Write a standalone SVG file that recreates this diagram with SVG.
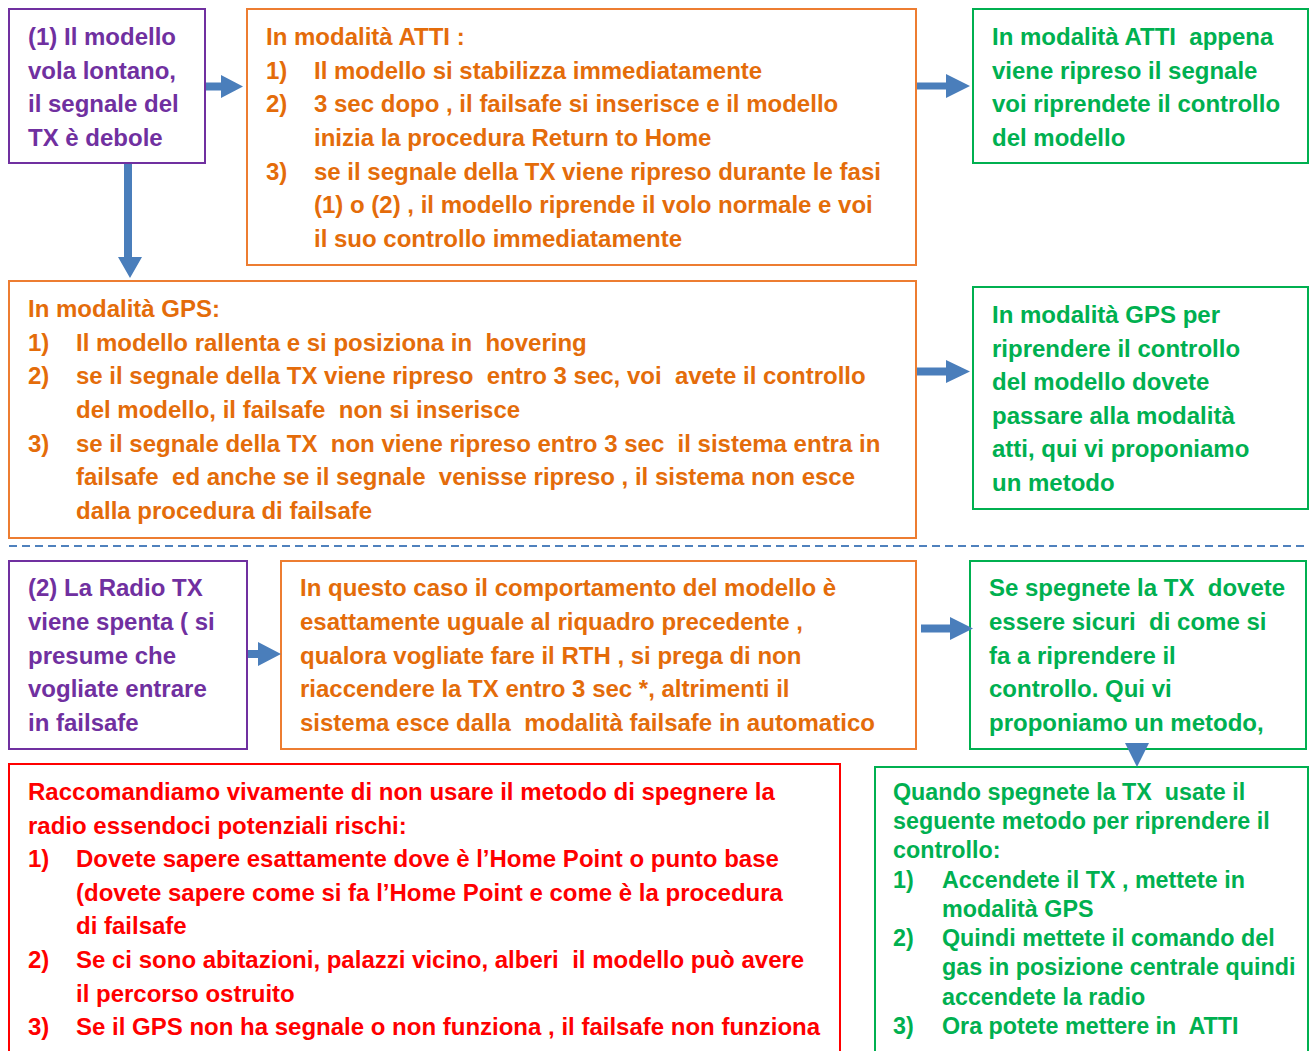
<svg xmlns="http://www.w3.org/2000/svg" width="1309" height="1051" viewBox="0 0 1309 1051">
<style>
text{font-family:"Liberation Sans",Arial,sans-serif;font-weight:bold;font-size:24px;white-space:pre}
.p{fill:#7030A0}.o{fill:#E46C0A}.g{fill:#00B050}.r{fill:#FF0000}
.s{font-size:23.3px}
.bp{fill:#fff;stroke:#7030A0;stroke-width:2}
.bo{fill:#fff;stroke:#ED7D31;stroke-width:2}
.bg{fill:#fff;stroke:#00B050;stroke-width:2}
.br{fill:#fff;stroke:#FF0000;stroke-width:2}
.ar{fill:#4A7EBB}
</style>
<rect width="1309" height="1051" fill="#fff"/>
<g id="n1">
<rect class="bp" x="9" y="9" width="196" height="154"/>
<text class="p" x="28" y="45">(1) Il modello</text>
<text class="p" x="28" y="79">vola lontano,</text>
<text class="p" x="28" y="112">il segnale del</text>
<text class="p" x="28" y="146">TX è debole</text>
</g>
<g id="n2">
<rect class="bo" x="247" y="9" width="669" height="256"/>
<text class="o" x="266" y="45">In modalità ATTI :</text>
<text class="o" x="266" y="79">1)</text><text class="o" x="314" y="79">Il modello si stabilizza immediatamente</text>
<text class="o" x="266" y="112">2)</text><text class="o" x="314" y="112">3 sec dopo , il failsafe si inserisce e il modello</text>
<text class="o" x="314" y="146">inizia la procedura Return to Home</text>
<text class="o" x="266" y="180">3)</text><text class="o" x="314" y="180">se il segnale della TX viene ripreso durante le fasi</text>
<text class="o" x="314" y="213">(1) o (2) , il modello riprende il volo normale e voi</text>
<text class="o" x="314" y="247">il suo controllo immediatamente</text>
</g>
<g id="n3">
<rect class="bg" x="973" y="9" width="335" height="154"/>
<text class="g" x="992" y="45">In modalità ATTI  appena</text>
<text class="g" x="992" y="79">viene ripreso il segnale</text>
<text class="g" x="992" y="112">voi riprendete il controllo</text>
<text class="g" x="992" y="146">del modello</text>
</g>
<g id="n4">
<rect class="bo" x="9" y="281" width="907" height="257"/>
<text class="o" x="28" y="317">In modalità GPS:</text>
<text class="o" x="28" y="351">1)</text><text class="o" x="76" y="351">Il modello rallenta e si posiziona in  hovering</text>
<text class="o" x="28" y="384">2)</text><text class="o" x="76" y="384">se il segnale della TX viene ripreso  entro 3 sec, voi  avete il controllo</text>
<text class="o" x="76" y="418">del modello, il failsafe  non si inserisce</text>
<text class="o" x="28" y="452">3)</text><text class="o" x="76" y="452">se il segnale della TX  non viene ripreso entro 3 sec  il sistema entra in</text>
<text class="o" x="76" y="485">failsafe  ed anche se il segnale  venisse ripreso , il sistema non esce</text>
<text class="o" x="76" y="519">dalla procedura di failsafe</text>
</g>
<g id="n5">
<rect class="bg" x="973" y="287" width="335" height="222"/>
<text class="g" x="992" y="323">In modalità GPS per</text>
<text class="g" x="992" y="357">riprendere il controllo</text>
<text class="g" x="992" y="390">del modello dovete</text>
<text class="g" x="992" y="424">passare alla modalità</text>
<text class="g" x="992" y="457">atti, qui vi proponiamo</text>
<text class="g" x="992" y="491">un metodo</text>
</g>
<g id="n6">
<rect class="bp" x="9" y="561" width="238" height="188"/>
<text class="p" x="28" y="596">(2) La Radio TX</text>
<text class="p" x="28" y="630">viene spenta ( si</text>
<text class="p" x="28" y="664">presume che</text>
<text class="p" x="28" y="697">vogliate entrare</text>
<text class="p" x="28" y="731">in failsafe</text>
</g>
<g id="n7">
<rect class="bo" x="281" y="561" width="635" height="188"/>
<text class="o" x="300" y="596">In questo caso il comportamento del modello è</text>
<text class="o" x="300" y="630">esattamente uguale al riquadro precedente ,</text>
<text class="o" x="300" y="664">qualora vogliate fare il RTH , si prega di non</text>
<text class="o" x="300" y="697">riaccendere la TX entro 3 sec *, altrimenti il</text>
<text class="o" x="300" y="731">sistema esce dalla  modalità failsafe in automatico</text>
</g>
<g id="n8">
<rect class="bg" x="970" y="561" width="336" height="188"/>
<text class="g" x="989" y="596">Se spegnete la TX  dovete</text>
<text class="g" x="989" y="630">essere sicuri  di come si</text>
<text class="g" x="989" y="664">fa a riprendere il</text>
<text class="g" x="989" y="697">controllo. Qui vi</text>
<text class="g" x="989" y="731">proponiamo un metodo,</text>
</g>
<g id="n9">
<rect class="br" x="9" y="764" width="831" height="300"/>
<text class="r" x="28" y="800">Raccomandiamo vivamente di non usare il metodo di spegnere la</text>
<text class="r" x="28" y="834">radio essendoci potenziali rischi:</text>
<text class="r" x="28" y="867">1)</text><text class="r" x="76" y="867">Dovete sapere esattamente dove è l’Home Point o punto base</text>
<text class="r" x="76" y="901">(dovete sapere come si fa l’Home Point e come è la procedura</text>
<text class="r" x="76" y="934">di failsafe</text>
<text class="r" x="28" y="968">2)</text><text class="r" x="76" y="968">Se ci sono abitazioni, palazzi vicino, alberi  il modello può avere</text>
<text class="r" x="76" y="1002">il percorso ostruito</text>
<text class="r" x="28" y="1035">3)</text><text class="r" x="76" y="1035">Se il GPS non ha segnale o non funziona , il failsafe non funziona</text>
</g>
<g id="n10">
<rect class="bg" x="875" y="767" width="433" height="300"/>
<text class="g s" x="893" y="800">Quando spegnete la TX  usate il</text>
<text class="g s" x="893" y="829">seguente metodo per riprendere il</text>
<text class="g s" x="893" y="858">controllo:</text>
<text class="g s" x="893" y="888">1)</text><text class="g s" x="942" y="888">Accendete il TX , mettete in</text>
<text class="g s" x="942" y="917">modalità GPS</text>
<text class="g s" x="893" y="946">2)</text><text class="g s" x="942" y="946">Quindi mettete il comando del</text>
<text class="g s" x="942" y="975">gas in posizione centrale quindi</text>
<text class="g s" x="942" y="1005">accendete la radio</text>
<text class="g s" x="893" y="1034">3)</text><text class="g s" x="942" y="1034">Ora potete mettere in  ATTI</text>
</g>
<g id="connectors">
<polygon class="ar" points="206,82.5 221,82.5 221,75 243,86.5 221,98 221,90.5 206,90.5"/>
<polygon class="ar" points="917,82.5 946,82.5 946,74 970,86 946,98 946,89.5 917,89.5"/>
<polygon class="ar" points="124,164 132,164 132,257 142,257 130,278 118,257 124,257"/>
<polygon class="ar" points="917,367.5 946,367.5 946,360 970,371.5 946,383 946,375.5 917,375.5"/>
<polygon class="ar" points="248,650 258,650 258,642 281,654 258,666 258,658 248,658"/>
<polygon class="ar" points="921,624.5 950,624.5 950,617 973,628.5 950,640 950,632.5 921,632.5"/>
<polygon class="ar" points="1125,743 1149,743 1137,767"/>
<line x1="9" y1="546" x2="1305" y2="546" stroke="#4F81BD" stroke-width="2" stroke-dasharray="8,5"/>
</g>
</svg>
